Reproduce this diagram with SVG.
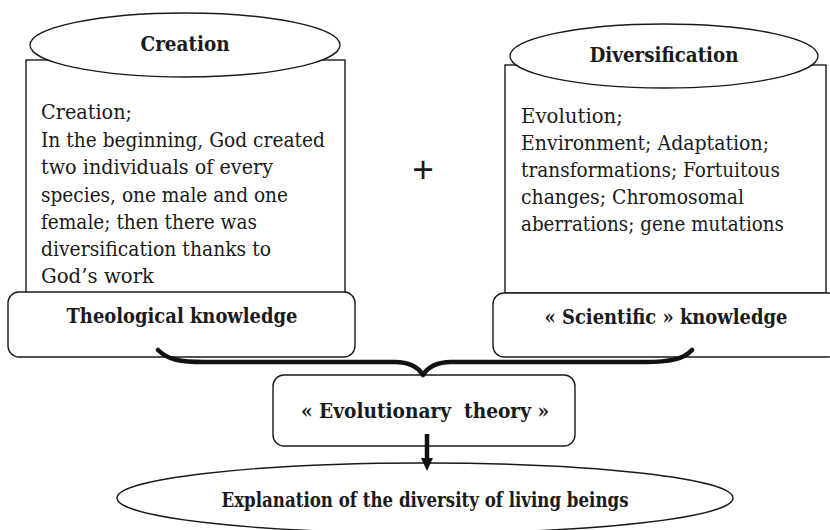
<svg xmlns="http://www.w3.org/2000/svg" width="830" height="530" viewBox="0 0 830 530">
<style>
.shape{fill:#fff;stroke:#1a1a1a;stroke-width:1.4}
.hd{font-family:"DejaVu Serif",serif;font-weight:bold;font-size:21px;fill:#1a1a1a;text-anchor:middle}
.bd{font-family:"DejaVu Serif",serif;font-size:21px;fill:#1a1a1a}
.conn{fill:none;stroke:#111;stroke-width:4.5;stroke-linecap:round;stroke-linejoin:round}
</style>
<rect width="830" height="530" fill="#fff"/>
<g id="creation-panel">
<rect class="shape" x="26" y="60" width="319" height="233"/>
<text class="bd" x="41" y="119" textLength="91" lengthAdjust="spacingAndGlyphs">Creation;</text>
<text class="bd" x="41" y="147" textLength="284" lengthAdjust="spacingAndGlyphs">In the beginning, God created</text>
<text class="bd" x="41" y="174" textLength="232" lengthAdjust="spacingAndGlyphs">two individuals of every</text>
<text class="bd" x="41" y="202" textLength="247" lengthAdjust="spacingAndGlyphs">species, one male and one</text>
<text class="bd" x="41" y="229" textLength="216" lengthAdjust="spacingAndGlyphs">female; then there was</text>
<text class="bd" x="41" y="256" textLength="230" lengthAdjust="spacingAndGlyphs">diversification thanks to</text>
<text class="bd" x="41" y="283" textLength="113" lengthAdjust="spacingAndGlyphs">God’s work</text>
</g>
<g id="creation-title">
<ellipse class="shape" cx="185" cy="45" rx="155" ry="32"/>
<text class="hd" x="185" y="51" textLength="89" lengthAdjust="spacingAndGlyphs">Creation</text>
</g>
<g id="diversification-panel">
<rect class="shape" x="505" y="65" width="321" height="228"/>
<text class="bd" x="521" y="123" textLength="102" lengthAdjust="spacingAndGlyphs">Evolution;</text>
<text class="bd" x="521" y="150" textLength="248" lengthAdjust="spacingAndGlyphs">Environment; Adaptation;</text>
<text class="bd" x="521" y="177" textLength="259" lengthAdjust="spacingAndGlyphs">transformations; Fortuitous</text>
<text class="bd" x="521" y="204" textLength="223" lengthAdjust="spacingAndGlyphs">changes; Chromosomal</text>
<text class="bd" x="521" y="231" textLength="263" lengthAdjust="spacingAndGlyphs">aberrations; gene mutations</text>
</g>
<g id="diversification-title">
<ellipse class="shape" cx="664" cy="56" rx="154" ry="32"/>
<text class="hd" x="664" y="62" textLength="149" lengthAdjust="spacingAndGlyphs">Diversification</text>
</g>
<g id="plus">
<text x="423" y="182" font-family="Liberation Sans, Arial, sans-serif" font-size="37" text-anchor="middle" fill="#1a1a1a">+</text>
</g>
<g id="theological">
<rect class="shape" x="8" y="292" width="347" height="65" rx="11"/>
<text class="hd" x="182" y="323" textLength="231" lengthAdjust="spacingAndGlyphs">Theological knowledge</text>
</g>
<g id="scientific">
<rect class="shape" x="493" y="293" width="346" height="64" rx="11"/>
<text class="hd" x="666" y="324" textLength="243" lengthAdjust="spacingAndGlyphs">« Scientific » knowledge</text>
</g>
<g id="evolutionary">
<rect class="shape" x="273" y="375" width="302" height="71" rx="11"/>
<text class="hd" x="425" y="418" xml:space="preserve" textLength="248" lengthAdjust="spacingAndGlyphs">« Evolutionary  theory »</text>
</g>
<g id="explanation">
<ellipse class="shape" cx="425" cy="498" rx="308" ry="35" stroke-width="1.8"/>
<text class="hd" x="425" y="507" style="font-size:20px" textLength="407" lengthAdjust="spacingAndGlyphs">Explanation of the diversity of living beings</text>
</g>
<g id="connectors">
<path class="conn" d="M158,350 C168,360 180,362 205,362 L395,362 C410,362 418,367 423,375 C428,367 436,362 451,362 L645,362 C670,362 684,359 692,350"/>
<line x1="427" y1="434" x2="427" y2="460" stroke="#111" stroke-width="4.5"/>
<polygon points="421,458 433,458 427,471" fill="#111"/>
</g>
</svg>
